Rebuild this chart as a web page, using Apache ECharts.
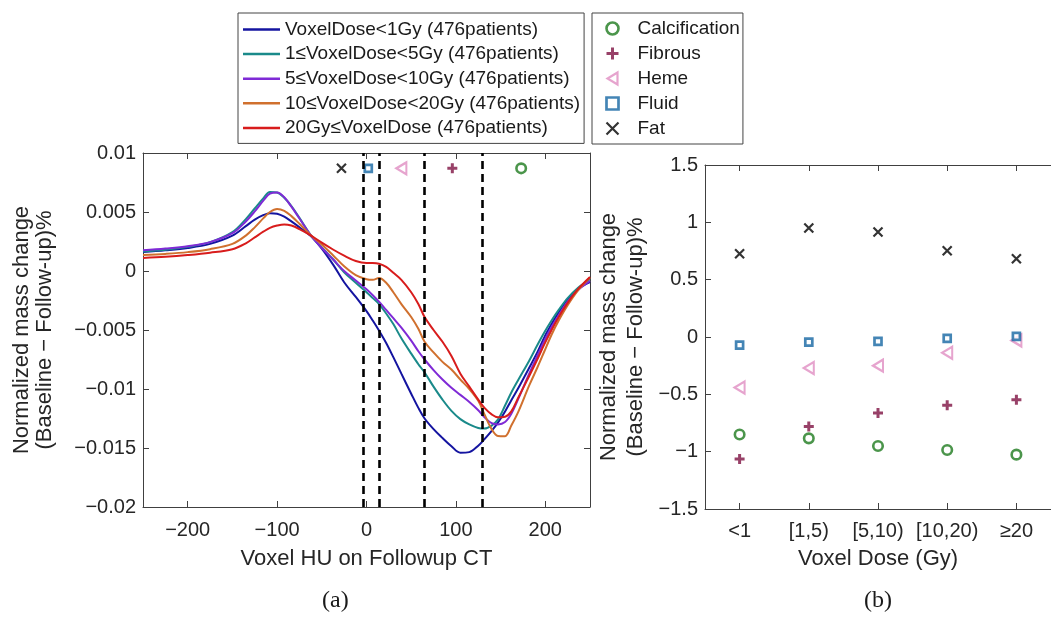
<!DOCTYPE html>
<html><head><meta charset="utf-8">
<script src="https://cdn.jsdelivr.net/npm/echarts@6/dist/echarts.min.js"></script>
<style>html,body{margin:0;padding:0;background:#fff}#c{width:1051px;height:621px}</style>
</head><body><div id="c"></div>
<script>
// ---------- Panel (a): curves (values in units of 1e-3) ----------
const huValues = [-250,-225,-200,-175,-150,-135,-125,-115,-108,-100,-92,-84,-75,-62,-50,-37,-25,-12,0,7,14,22,30,39,50,58,65,75,85,95,105,115,125,132,140,147,155,162,170,182,191,199,207,215,225,237,250];
const curveNames = ['VoxelDose<1Gy (476patients)','1\u2264VoxelDose<5Gy (476patients)','5\u2264VoxelDose<10Gy (476patients)','10\u2264VoxelDose<20Gy (476patients)','20Gy\u2264VoxelDose (476patients)'];
const doseLt1 = [1.60,1.75,1.95,2.30,3.00,3.80,4.35,4.75,4.90,4.85,4.60,4.20,3.70,2.95,1.90,0.50,-0.95,-2.20,-3.40,-4.20,-5.05,-6.10,-7.30,-8.70,-10.40,-11.60,-12.50,-13.40,-14.15,-14.85,-15.40,-15.35,-14.80,-14.25,-13.55,-12.85,-11.90,-10.95,-9.90,-8.20,-6.90,-5.60,-4.50,-3.50,-2.40,-1.50,-0.95];
const dose1to5 = [1.65,1.80,2.05,2.45,3.30,4.40,5.30,6.20,6.70,6.65,6.20,5.50,4.50,3.00,2.00,0.95,-0.10,-1.00,-1.80,-2.30,-2.80,-3.60,-4.50,-5.70,-7.00,-7.90,-8.60,-9.80,-10.90,-11.85,-12.55,-13.00,-13.30,-13.35,-13.10,-12.60,-11.40,-10.30,-9.20,-7.60,-6.30,-5.20,-4.20,-3.30,-2.30,-1.40,-0.70];
const dose5to10 = [1.75,1.90,2.10,2.45,3.20,4.20,5.05,6.00,6.55,6.65,6.25,5.45,4.45,3.00,1.95,0.95,0.00,-0.80,-1.55,-2.05,-2.60,-3.30,-4.00,-4.80,-5.90,-6.80,-7.50,-8.40,-9.20,-9.90,-10.50,-11.10,-11.80,-12.40,-12.90,-13.00,-12.80,-12.10,-10.80,-8.70,-7.20,-5.90,-4.75,-3.75,-2.60,-1.60,-0.85];
const dose10to20 = [1.35,1.45,1.60,1.85,2.30,3.00,3.70,4.50,5.00,5.25,5.10,4.65,4.00,3.00,2.25,1.30,0.40,-0.35,-0.70,-0.75,-0.60,-1.00,-1.80,-2.80,-3.90,-4.90,-6.00,-6.90,-7.70,-8.35,-9.20,-10.00,-11.00,-12.15,-13.40,-13.98,-14.00,-13.10,-11.90,-9.70,-8.20,-6.80,-5.40,-4.20,-2.90,-1.60,-0.55];
const doseGe20 = [1.10,1.20,1.35,1.55,1.85,2.35,2.85,3.35,3.65,3.85,3.95,3.85,3.55,3.00,2.40,1.80,1.30,0.85,0.68,0.68,0.62,0.35,-0.15,-0.75,-1.80,-2.80,-3.90,-5.00,-6.00,-7.20,-8.70,-9.80,-10.90,-11.60,-12.15,-12.40,-12.35,-11.90,-10.70,-8.90,-7.50,-6.20,-5.00,-3.90,-2.70,-1.50,-0.50];
const dashedHU = [-4, 14, 65, 130];
const xTickValues = [-200, -100, 0, 100, 200];

// ---------- Tissue markers ----------
const tissueNames = ['Calcification','Fibrous','Heme','Fluid','Fat'];
const tissueHU = [173, 96, 39, 2, -28];
const tissueMarkerLevel = [0.0087, 0.0087, 0.0087, 0.0087, 0.0087];

// ---------- Panel (b) ----------
const doseCategories = ['<1','[1,5)','[5,10)','[10,20)','\u226520'];
const calcification = [-0.85,-0.884,-0.95,-0.985,-1.026];
const fibrous = [-1.064,-0.78,-0.663,-0.596,-0.547];
const heme = [-0.44,-0.27,-0.25,-0.137,-0.03];
const fluid = [-0.07,-0.044,-0.038,-0.012,0.005];
const fat = [0.726,0.95,0.915,0.752,0.683];

const curveValues = [doseLt1, dose1to5, dose5to10, dose10to20, doseGe20];
const tissueValues = [calcification, fibrous, heme, fluid, fat];

// styles
const curveColors = ['#1414a0','#1a8a8a','#7f2ad6','#d0702e','#d81c1c'];
const tissueStyle = [
  {symbol:'circle', size:9.5, fill:'#ffffff', stroke:'#1e7a1e', bw:2.6},
  {symbol:'path://M5,0L5,10M0,5L10,5', size:10, fill:'rgba(0,0,0,0)', stroke:'#7e1242', bw:3},
  {symbol:'path://M10,0L0,6L10,12Z', size:[10,12], fill:'rgba(0,0,0,0)', stroke:'#e08dc2', bw:2.2},
  {symbol:'path://M0,0L10,0L10,10L0,10Z', size:7, fill:'#ffffff', stroke:'#1566a3', bw:2.7},
  {symbol:'path://M0,0L10,10M10,0L0,10', size:9, fill:'rgba(0,0,0,0)', stroke:'#000000', bw:2.2}
];

const FONT = "'Liberation Sans', Arial, sans-serif";
const TXT = '#262626';
const AX = '#404040';
const minus = s => String(s).replace('-', '\u2212');

const chart = echarts.init(document.getElementById('c'), null, {renderer:'canvas'});

const series = [];
curveNames.forEach((n, k) => {
  series.push({
    type:'line', name:n, xAxisIndex:0, yAxisIndex:0, symbol:'none', showSymbol:false, smooth:0.35,
    lineStyle:{color:curveColors[k], width:2}, itemStyle:{color:curveColors[k]},
    data: huValues.map((x, i) => [x, curveValues[k][i] * 1e-3]), z:2
  });
});
series.push({
  type:'line', xAxisIndex:0, yAxisIndex:0, data:[], silent:true, symbol:'none',
  markLine:{silent:true, symbol:['none','none'], label:{show:false},
    lineStyle:{color:'#000', width:2.6, type:[8,5]}, emphasis:{disabled:true},
    data: dashedHU.map(v => ({xAxis:v}))}, z:5
});
tissueNames.forEach((n, k) => {
  const st = tissueStyle[k];
  const common = {type:'scatter', name:n, symbol:st.symbol, symbolSize:st.size,
    itemStyle:{color:st.fill, borderColor:st.stroke, borderWidth:st.bw}, z:4};
  series.push(Object.assign({}, common, {xAxisIndex:0, yAxisIndex:0,
    data:[[tissueHU[k], tissueMarkerLevel[k]]]}));
  series.push(Object.assign({}, common, {xAxisIndex:2, yAxisIndex:2,
    data: tissueValues[k]}));
});
const axisLineStyle = {show:true, onZero:false, lineStyle:{color:AX, width:1}};
const tickIn = {show:true, inside:true, length:6, lineStyle:{color:AX}};

const option = {
  animation:false,
  backgroundColor:'#fff',
  textStyle:{fontFamily:FONT},
  grid:[
    {left:143, top:153, width:447, height:354},
    {left:705, top:165, width:352.5, height:344}
  ],
  xAxis:[
    {gridIndex:0, type:'value', position:'bottom', min:-250, max:250,
      axisLine:axisLineStyle, splitLine:{show:false},
      axisTick:Object.assign({customValues:xTickValues}, tickIn),
      axisLabel:{customValues:xTickValues, fontSize:20, color:TXT, margin:13, fontFamily:FONT, formatter:v => minus(v)},
      name:'Voxel HU on Followup CT', nameLocation:'middle', nameGap:41,
      nameTextStyle:{fontSize:22, color:TXT, fontFamily:FONT}},
    {gridIndex:0, type:'value', position:'top', min:-250, max:250,
      axisLine:axisLineStyle, splitLine:{show:false},
      axisTick:Object.assign({customValues:xTickValues}, tickIn), axisLabel:{show:false}},
    {gridIndex:1, type:'category', position:'bottom', data:doseCategories, boundaryGap:true,
      axisLine:axisLineStyle, splitLine:{show:false},
      axisTick:Object.assign({alignWithLabel:true, interval:0}, tickIn),
      axisLabel:{interval:0, fontSize:20, color:TXT, margin:12, fontFamily:FONT},
      name:'Voxel Dose (Gy)', nameLocation:'middle', nameGap:39,
      nameTextStyle:{fontSize:22, color:TXT, fontFamily:FONT}},
    {gridIndex:1, type:'category', position:'top', data:doseCategories, boundaryGap:true,
      axisLine:axisLineStyle, splitLine:{show:false},
      axisTick:Object.assign({alignWithLabel:true, interval:0}, tickIn), axisLabel:{show:false}}
  ],
  yAxis:[
    {gridIndex:0, type:'value', position:'left', min:-0.02, max:0.01, interval:0.005,
      axisLine:axisLineStyle, splitLine:{show:false}, axisTick:tickIn,
      axisLabel:{fontSize:20, color:TXT, margin:7, fontFamily:FONT,
        formatter:v => minus(parseFloat(v.toFixed(4)))},
      name:'Normalized mass change\n(Baseline \u2212 Follow-up)%', nameLocation:'middle', nameRotate:90, nameGap:87,
      nameTextStyle:{fontSize:22, color:TXT, lineHeight:23, fontFamily:FONT, align:'center'}},
    {gridIndex:0, type:'value', position:'right', min:-0.02, max:0.01, interval:0.005,
      axisLine:axisLineStyle, splitLine:{show:false}, axisTick:tickIn, axisLabel:{show:false}},
    {gridIndex:1, type:'value', position:'left', min:-1.5, max:1.5, interval:0.5,
      axisLine:axisLineStyle, splitLine:{show:false}, axisTick:tickIn,
      axisLabel:{fontSize:20, color:TXT, margin:7, fontFamily:FONT,
        formatter:v => minus(parseFloat(v.toFixed(2)))},
      name:'Normalized mass change\n(Baseline \u2212 Follow-up)%', nameLocation:'middle', nameRotate:90, nameGap:56,
      nameTextStyle:{fontSize:22, color:TXT, lineHeight:27, fontFamily:FONT, align:'center'}}
  ],
  legend:[
    {orient:'vertical', left:238, top:13, itemWidth:37, itemHeight:14, itemGap:5.6,
      padding:[7,4,6,5], borderColor:'#444', borderWidth:1, backgroundColor:'#fff',
      textStyle:{fontSize:19, color:'#1a1a1a', fontFamily:FONT},
      data: curveNames.map((n,k) => ({name:n, icon:'path://M0,0L37,0L37,2.5L0,2.5Z', itemStyle:{color:curveColors[k]}}))},
    {orient:'vertical', left:592, top:13, itemWidth:40, itemHeight:12, itemGap:6,
      padding:[6,3,6,13], borderColor:'#444', borderWidth:1, backgroundColor:'#fff',
      textStyle:{fontSize:19, color:'#1a1a1a', fontFamily:FONT},
      data: tissueNames.map((n,k) => ({name:n, itemStyle:{color:tissueStyle[k].fill, borderColor:tissueStyle[k].stroke, borderWidth:tissueStyle[k].bw}}))}
  ],
  graphic:[
    {type:'text', left:336 - 14, top:589, style:{text:'(a)', font:"24px 'Liberation Serif', 'Times New Roman', serif", fill:'#1a1a1a'}},
    {type:'text', left:878 - 14, top:589, style:{text:'(b)', font:"24px 'Liberation Serif', 'Times New Roman', serif", fill:'#1a1a1a'}}
  ],
  series: series
};
chart.setOption(option);
</script>
</body></html>
